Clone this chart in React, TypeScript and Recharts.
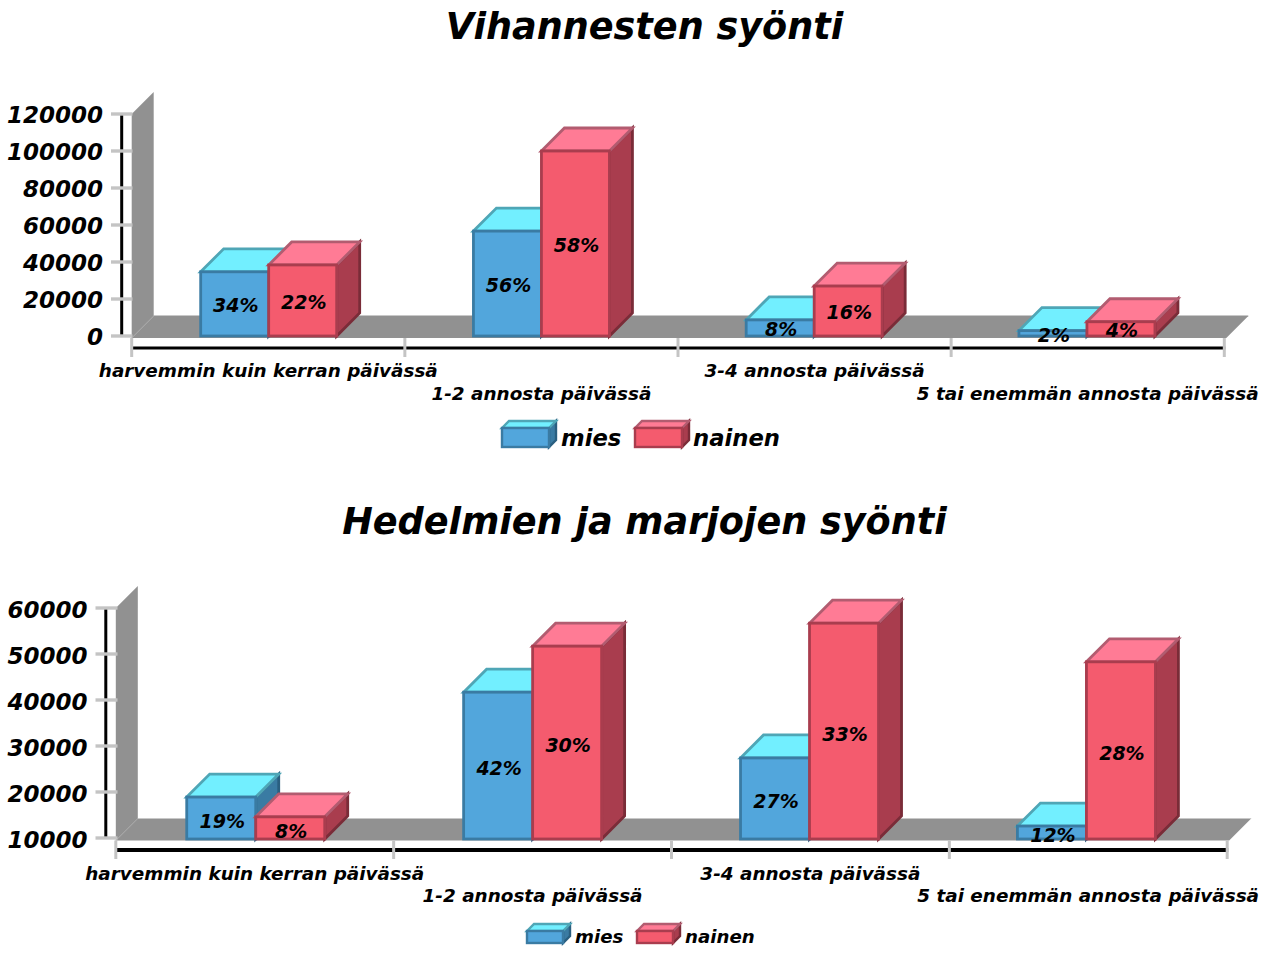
import React from 'react';
import { BarChart, Bar, XAxis, YAxis, ReferenceArea, Legend, LabelList } from 'recharts';

const categories = [
  'harvemmin kuin kerran päivässä',
  '1-2 annosta päivässä',
  '3-4 annosta päivässä',
  '5 tai enemmän annosta päivässä',
];
const vegMies = [34700, 56700, 8700, 2900];
const vegNainen = [38400, 100000, 27000, 7700];
const vegMiesPct = [34, 56, 8, 2];
const vegNainenPct = [22, 58, 16, 4];
const fruitMies = [18900, 41700, 27400, 12600];
const fruitNainen = [14600, 51700, 56700, 48300];
const fruitMiesPct = [19, 42, 27, 12];
const fruitNainenPct = [8, 30, 33, 28];
const vegTicks = [0, 20000, 40000, 60000, 80000, 100000, 120000];
const fruitTicks = [10000, 20000, 30000, 40000, 50000, 60000];

const FONT = '"DejaVu Sans", sans-serif';
const DEPTH = 23;
const WALL = 22;

const palette: Record<string, any> = {
  mies: { front: '#52A6DC', frontStroke: '#3A7BA3', top: '#72EFFF', topStroke: '#4FA6B6', side: '#3A7BA3', sideStroke: '#2A5F80' },
  nainen: { front: '#F45B6E', frontStroke: '#A93D4E', top: '#FF7B95', topStroke: '#B25C70', side: '#A93D4E', sideStroke: '#7A2C38' },
};

const pts = (a: number[][]) => a.map((p) => p.join(',')).join(' ');

function Block({ x, y, w, h, d, c, sw = 2.8 }: any) {
  return (
    <g strokeWidth={sw} strokeLinejoin="miter">
      <polygon points={pts([[x + w, y], [x + w + d, y - d], [x + w + d, y + h - d], [x + w, y + h]])} fill={c.side} stroke={c.sideStroke} />
      <polygon points={pts([[x, y], [x + d, y - d], [x + w + d, y - d], [x + w, y]])} fill={c.top} stroke={c.topStroke} />
      <rect x={x} y={y} width={w} height={h} fill={c.front} stroke={c.frontStroke} />
    </g>
  );
}

const barShape = (key: string, extra: number) => (p: any) => (
  <Block x={p.x} y={p.y} w={p.width} h={p.height + extra - 1} d={DEPTH} c={palette[key]} />
);

function Stage({ y, height, cfg }: any) {
  const x = cfg.tick0;
  const bottom = y + height;
  const fb = bottom + cfg.floorExtra;
  const right = cfg.tick0 + cfg.tickStep * categories.length;
  const n = categories.length;
  return (
    <g>
      <polygon points={pts([[x, y], [x + WALL, y - WALL], [x + WALL, fb - WALL], [x, fb]])} fill="#919191" />
      <polygon points={pts([[x, fb], [x + WALL, fb - WALL], [right + WALL + 2, fb - WALL], [right + 2, fb]])} fill="#919191" />
      <line x1={x} y1={fb} x2={x + WALL} y2={fb - WALL} stroke="#a6a6a6" strokeWidth={1} />
      <line x1={x + WALL} y1={fb - WALL} x2={right + WALL + 2} y2={fb - WALL} stroke={cfg.edge} strokeWidth={1} />
      <line x1={x - 10} y1={y} x2={x - 10} y2={bottom + 1} stroke="#000" strokeWidth={3} />
      <line x1={x + 1} y1={bottom + 12} x2={right + 1} y2={bottom + 12} stroke="#000" strokeWidth={cfg.axisW} />
      {Array.from({ length: n + 1 }, (_, i) => (
        <line key={i} x1={cfg.tick0 + i * cfg.tickStep} y1={fb} x2={cfg.tick0 + i * cfg.tickStep} y2={bottom + 21} stroke="#C4C4C4" strokeWidth={3} />
      ))}
    </g>
  );
}

function LegendBox({ cfg, payload }: any) {
  return (
    <svg width={420} height={40} style={{ display: 'block', overflow: 'visible' }}>
      {(payload || []).map((e: any, i: number) => {
        const it = cfg.items[i];
        return (
          <g key={e.value}>
            <Block x={it.sx} y={cfg.sy} w={cfg.sw} h={cfg.sh} d={7} c={palette[e.value]} sw={2.4} />
            <text x={it.tx} y={cfg.ty} fontFamily={FONT} fontWeight="bold" fontStyle="italic" fontSize={cfg.fs} fill="#000">{e.value}</text>
          </g>
        );
      })}
    </svg>
  );
}

function Chart3D({ cfg, mies, nainen, miesPct, nainenPct, ticks }: any) {
  const data = categories.map((name, i) => ({
    name, mies: mies[i], nainen: nainen[i], miesPct: miesPct[i], nainenPct: nainenPct[i],
  }));
  const xTick = (p: any) => {
    const i = p.index;
    return (
      <text
        x={p.x + cfg.labelShift + i * cfg.labelStep}
        y={i % 2 === 0 ? cfg.row1 : cfg.row2}
        textAnchor="middle"
        fontFamily={FONT}
        fontWeight="bold"
        fontStyle="italic"
        fontSize={cfg.xfs}
        fill="#000"
      >
        {p.payload.value}
      </text>
    );
  };
  const pctLabel = { fill: '#000', fontFamily: FONT, fontWeight: 'bold', fontStyle: 'italic', fontSize: 19 } as any;
  return (
    <BarChart
      width={1263}
      height={cfg.h}
      data={data}
      barCategoryGap="25%"
      barGap={0}
      margin={{ top: cfg.top, left: 0, right: 1263 - cfg.left - cfg.plotW, bottom: 0 }}
    >
      <ReferenceArea y1={ticks[0]} y2={ticks[ticks.length - 1]} shape={(p: any) => <Stage {...p} cfg={cfg} />} />
      <XAxis dataKey="name" height={cfg.h - cfg.top - cfg.plotH} axisLine={false} tickLine={false} tick={xTick} interval={0} />
      <YAxis
        width={cfg.left}
        domain={[ticks[0], ticks[ticks.length - 1]]}
        ticks={ticks}
        interval={0}
        axisLine={false}
        tickSize={cfg.tickSize}
        tickMargin={8}
        tickLine={{ stroke: '#C4C4C4', strokeWidth: 3.4 }}
        tick={{ fill: '#000', fontFamily: FONT, fontWeight: 'bold', fontStyle: 'italic', fontSize: 23, dy: cfg.tickDy }}
      />
      <Legend
        layout="horizontal"
        verticalAlign="middle"
        wrapperStyle={{ left: cfg.legendLeft, top: cfg.legendTop, width: 420, height: 40 }}
        content={(p: any) => <LegendBox cfg={cfg.legend} payload={p.payload} />}
      />
      <Bar dataKey="mies" name="mies" fill={palette.mies.front} isAnimationActive={false} shape={barShape('mies', cfg.barExtra)}>
        <LabelList dataKey="miesPct" position="center" dx={1} dy={cfg.labelDy} formatter={(v: any) => `${v}%`} {...pctLabel} />
      </Bar>
      <Bar dataKey="nainen" name="nainen" fill={palette.nainen.front} isAnimationActive={false} shape={barShape('nainen', cfg.barExtra)}>
        <LabelList dataKey="nainenPct" position="center" dx={1} dy={cfg.labelDy} formatter={(v: any) => `${v}%`} {...pctLabel} />
      </Bar>
    </BarChart>
  );
}

const cfgVeg = {
  h: 478, top: 114, left: 132.5, plotW: 1091, plotH: 222, tickSize: 21.5, tickDy: 0.5,
  barExtra: 1, floorExtra: 2, tick0: 131.7, tickStep: 273.15, axisW: 3, edge: '#919191',
  labelShift: -0.6, labelStep: 0.4, row1: 377, row2: 400, xfs: 18.4, labelDy: 1.5,
  legendLeft: 480, legendTop: 410,
  legend: { sy: 18, sw: 47, sh: 19, fs: 22.7, ty: 36, items: [{ sx: 22, tx: 81 }, { sx: 155, tx: 213 }] },
};
const cfgFruit = {
  h: 479, top: 130, left: 117.5, plotW: 1107.6, plotH: 230, tickSize: 22, tickDy: 2,
  barExtra: 2, floorExtra: 2.5, tick0: 115.8, tickStep: 277.85, axisW: 4, edge: '#c8c8c8',
  labelShift: -1.2, labelStep: 0.9, row1: 402, row2: 424, xfs: 18.4, labelDy: 3.5,
  legendLeft: 500, legendTop: 440,
  legend: { sy: 13, sw: 36, sh: 12, fs: 18.2, ty: 25, items: [{ sx: 27, tx: 75 }, { sx: 137, tx: 185 }] },
};

const titleStyle = (top: number): React.CSSProperties => ({
  position: 'absolute', left: 0, width: 1263, top, textAlign: 'center', fontFamily: FONT,
  fontWeight: 'bold', fontStyle: 'italic', fontSize: 36.6, lineHeight: '44px', color: '#000', paddingLeft: 26,
  boxSizing: 'border-box', zIndex: 2,
});

export default function App() {
  return (
    <div style={{ position: 'absolute', left: 0, top: 0, width: 1263, height: 957, overflow: 'hidden', background: '#fff' }}>
      <div style={titleStyle(5)}>Vihannesten syönti</div>
      <div style={titleStyle(500)}>Hedelmien ja marjojen syönti</div>
      <div style={{ position: 'absolute', left: 0, top: 0 }}>
        <Chart3D cfg={cfgVeg} mies={vegMies} nainen={vegNainen} miesPct={vegMiesPct} nainenPct={vegNainenPct} ticks={vegTicks} />
      </div>
      <div style={{ position: 'absolute', left: 0, top: 478 }}>
        <Chart3D cfg={cfgFruit} mies={fruitMies} nainen={fruitNainen} miesPct={fruitMiesPct} nainenPct={fruitNainenPct} ticks={fruitTicks} />
      </div>
    </div>
  );
}
